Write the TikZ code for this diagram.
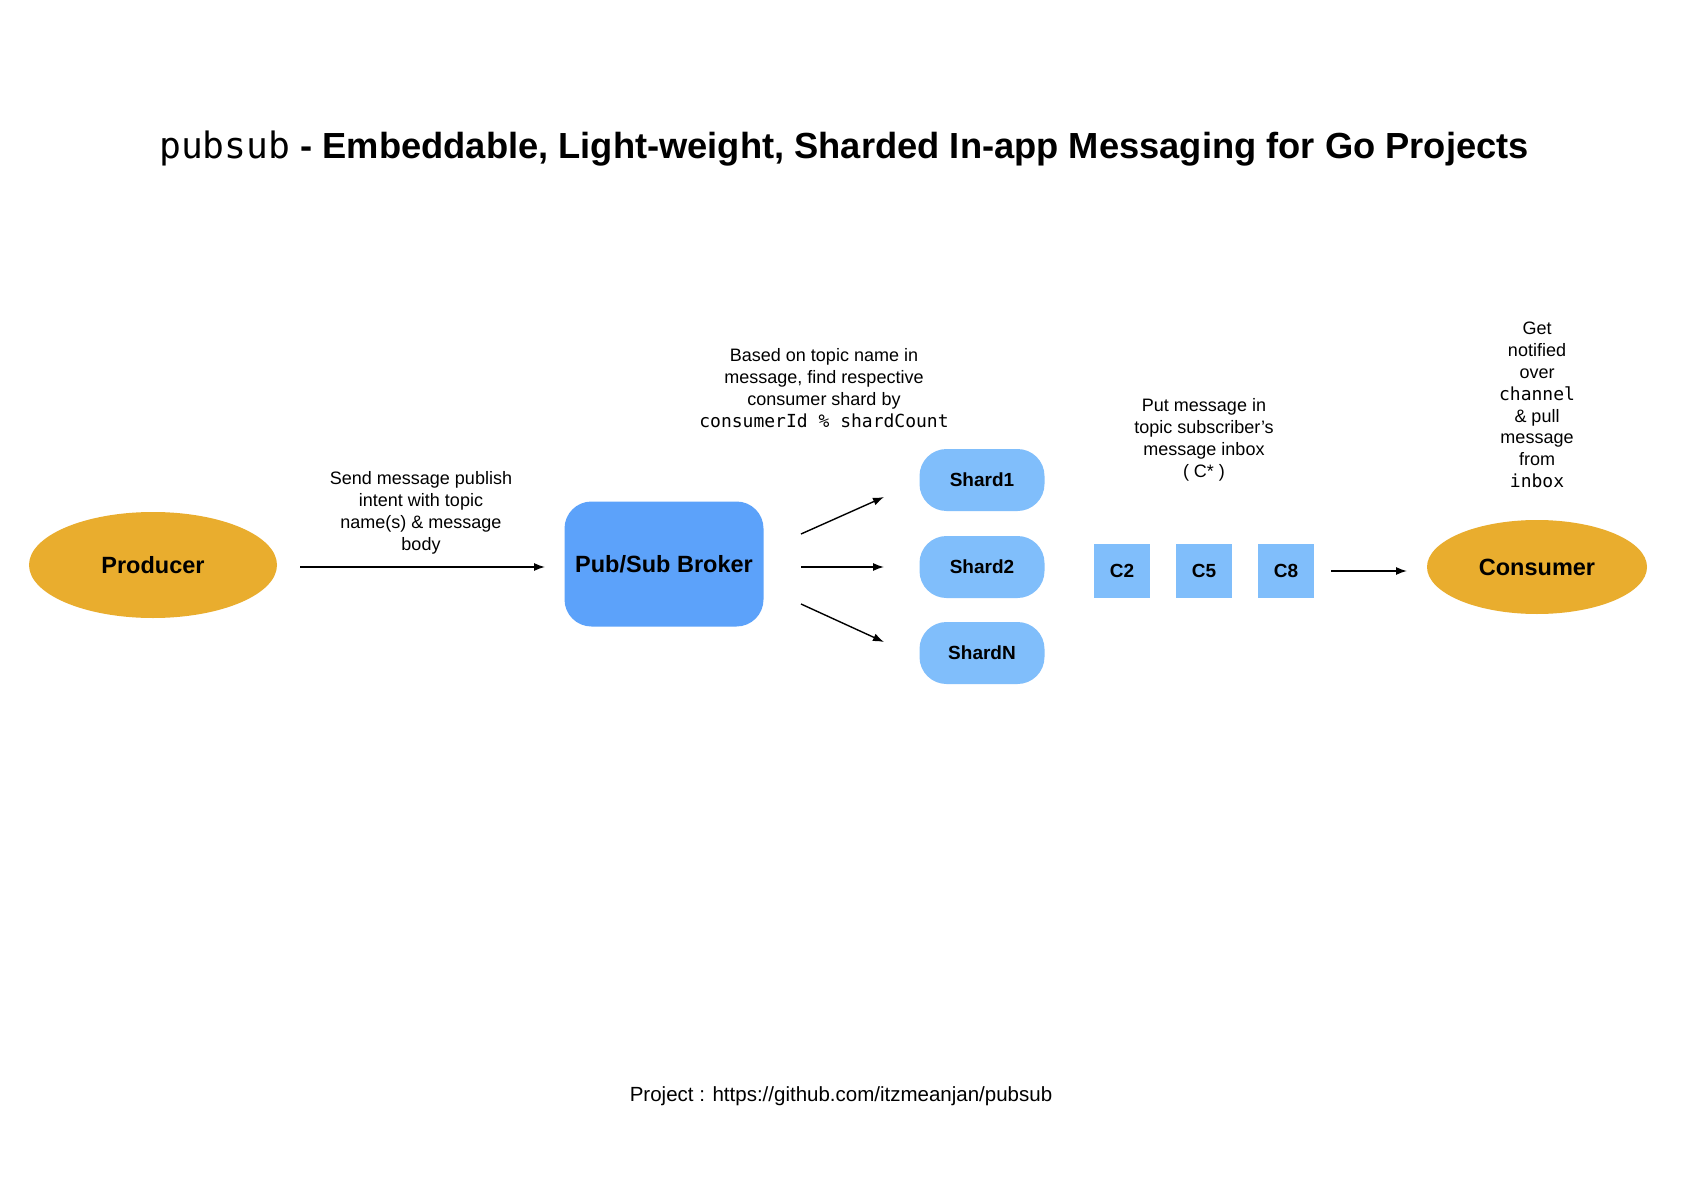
\documentclass[tikz,border=0pt]{standalone}
\usepackage{fontspec}
\setmainfont{Liberation Sans}
\setmonofont{DejaVu Sans Mono}
\usetikzlibrary{shapes.geometric,arrows.meta}
\definecolor{gold}{HTML}{E9AD2E}
\definecolor{broker}{HTML}{5CA2FA}
\definecolor{shardc}{HTML}{80BEFB}
\tikzset{
  actor/.style={ellipse, fill=gold, inner sep=0pt, font=\fontsize{23.5}{28}\selectfont\bfseries},
  brokerbox/.style={rectangle, rounded corners=27pt, fill=broker, inner sep=0pt, minimum width=199pt, minimum height=125pt, font=\fontsize{23.5}{28}\selectfont\bfseries},
  shardbox/.style={rectangle, rounded corners=27pt, fill=shardc, inner sep=0pt, minimum width=125pt, minimum height=62pt, font=\fontsize{19}{23}\selectfont\bfseries},
  inbox/.style={rectangle, fill=shardc, inner sep=0pt, minimum width=56pt, minimum height=54pt, font=\fontsize{19}{23}\selectfont\bfseries},
  note/.style={align=center, inner sep=0pt, font=\fontsize{18}{21.8}\selectfont},
  flow/.style={line width=1.4pt, -{Latex[length=11pt,width=8pt]}}
}
\begin{document}
\begin{tikzpicture}[x=1pt,y=-1pt]
\useasboundingbox (0,0) rectangle (1684,1190);
\fill[white] (0,0) rectangle (1684,1190);
\node[inner sep=0pt, font=\fontsize{36.3}{42}\selectfont] (title) at (844,149) {\texttt{pubsub} \textbf{- Embeddable, Light-weight, Sharded In-app Messaging for Go Projects}};

\node[actor, minimum width=248pt, minimum height=106pt] (prod) at (153,565) {Producer};
\node[brokerbox] (broker) at (664,564) {Pub/Sub Broker};
\node[shardbox] (s1) at (982,480) {Shard1};
\node[shardbox] (s2) at (982,567) {Shard2};
\node[shardbox] (sn) at (982,653) {ShardN};
\node[inbox] (c2) at (1122,571) {C2};
\node[inbox] (c5) at (1204,571) {C5};
\node[inbox] (c8) at (1286,571) {C8};
\node[actor, minimum width=220pt, minimum height=94pt] (cons) at (1537,567) {Consumer};

\coordinate (pa) at (300,567);
\coordinate (pb) at (545,567);
\draw[flow] (pa) -- (pb);
\coordinate (b1a) at (801,534); \coordinate (b1b) at (884,497);
\coordinate (b2a) at (801,567); \coordinate (b2b) at (884,567);
\coordinate (b3a) at (801,604); \coordinate (b3b) at (884,642);
\draw[flow] (b1a) -- (b1b);
\draw[flow] (b2a) -- (b2b);
\draw[flow] (b3a) -- (b3b);
\coordinate (ca) at (1331,571);
\coordinate (cb) at (1407,571);
\draw[flow] (ca) -- (cb);

\node[note] (n1) at (421,513) {Send message publish\\intent with topic\\name(s) \& message\\body};
\node[note] (n2) at (824,388) {Based on topic name in\\message, find respective\\consumer shard by\\\texttt{consumerId \% shardCount}};
\node[note] (n3) at (1204,440) {Put message in\\topic subscriber's\\message inbox\\( C* )};
\node[note] (n4) at (1537,405) {Get\\notified\\over\\\texttt{channel}\\\& pull\\message\\from\\\texttt{inbox}};

\node[inner sep=0pt, font=\fontsize{20.5}{24}\selectfont] (foot) at (841,1096) {Project : https://github.com/itzmeanjan/pubsub};
\end{tikzpicture}
\end{document}
